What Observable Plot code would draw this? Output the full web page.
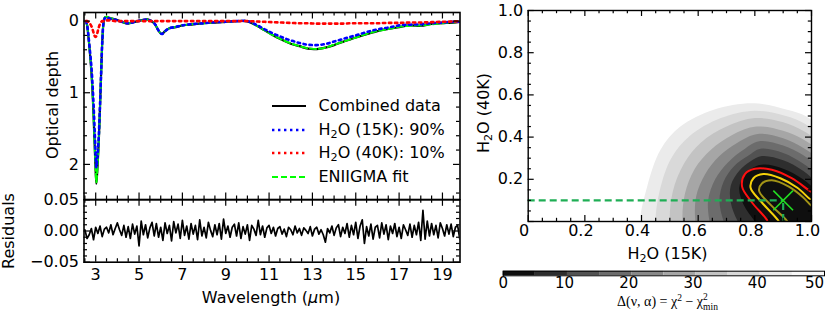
<!DOCTYPE html>
<html><head><meta charset="utf-8">
<script src="https://cdn.jsdelivr.net/npm/d3@7"></script>
<script src="https://cdn.jsdelivr.net/npm/@observablehq/plot@0.6"></script>
<style>
body{margin:0;background:#fff;}
#root{position:relative;width:831px;height:319px;overflow:hidden;font-family:"DejaVu Sans",sans-serif;color:#000;background:#fff;}
.pl{position:absolute;}
.lbl{position:absolute;font-size:16px;white-space:nowrap;transform:translate(-50%,-50%);line-height:1;}
.rot{transform:translate(-50%,-50%) rotate(-90deg);}
.row{position:absolute;height:20px;white-space:nowrap;font-size:16px;line-height:20px;}
.row svg{position:absolute;left:0;top:5px;}
.row span{position:absolute;left:47px;top:0;}
sub{font-size:0.7em;vertical-align:-0.25em;line-height:0;}
.sp{font-size:0.68em;position:relative;display:inline-block;line-height:0.75;}
</style></head><body><div id="root"></div>
<script>
// ---------- Spectrum (optical depth) ----------
const lam = [2.55,2.6,2.66,2.72,2.8,2.87,2.93,2.98,3.03,3.08,3.14,3.2,3.26,3.31,3.36,3.42,
  3.5,3.7,3.9,4.2,4.5,4.8,5.1,5.4,5.7,5.9,
  6.05,6.2,6.4,6.7,7.0,7.5,8.0,8.5,9.0,9.5,
  10.0,10.4,10.8,11.2,11.6,12.0,12.4,12.8,13.2,13.6,
  14.0,14.4,14.8,15.2,15.6,16.0,16.5,17.0,17.5,18.0,
  18.5,19.0,19.5,19.8];
const combinedData = [0.0,0.05,0.21,0.4,0.71,1.1,1.56,1.96,2.27,2.06,1.7,1.19,0.64,0.24,0.03,-0.05,
  -0.055,-0.04,-0.025,0.01,0.035,0.01,-0.01,-0.025,0.03,0.135,
  0.18,0.14,0.1,0.085,0.06,0.045,0.03,0.02,0.01,0.0,
  0.005,0.06,0.13,0.2,0.26,0.315,0.35,0.385,0.39,0.37,
  0.335,0.29,0.25,0.21,0.175,0.14,0.11,0.085,0.06,0.065,
  0.04,0.03,0.02,0.01];
const h2o15K = [0.0,0.05,0.19,0.37,0.63,0.97,1.36,1.73,2.04,1.89,1.61,1.16,0.64,0.25,0.03,-0.04,
  -0.05,-0.03,-0.02,0.01,0.03,0.01,-0.01,-0.02,0.03,0.13,
  0.18,0.14,0.1,0.08,0.06,0.04,0.03,0.015,0.01,0.0,
  0.0,0.05,0.115,0.175,0.225,0.27,0.305,0.33,0.335,0.32,
  0.285,0.25,0.215,0.18,0.145,0.115,0.09,0.06,0.05,0.045,
  0.03,0.02,0.01,0.01];
const h2o40K = [0.0,0.0,0.01,0.03,0.07,0.13,0.19,0.22,0.21,0.16,0.09,0.04,0.01,0.0,0.0,-0.01,
  -0.01,-0.01,0,0,0,0,0,0,0,0,
  0,0,0,0,0,0,0,0,0,0,
  0.0,0.005,0.01,0.015,0.02,0.025,0.03,0.03,0.035,0.035,
  0.035,0.035,0.03,0.03,0.03,0.03,0.025,0.025,0.02,0.02,
  0.015,0.01,0.005,0.0];
const eniigmaFit = [0.0,0.05,0.2,0.4,0.7,1.1,1.55,1.95,2.25,2.05,1.7,1.2,0.65,0.25,0.03,-0.05,
  -0.06,-0.04,-0.02,0.01,0.03,0.01,-0.01,-0.02,0.03,0.13,
  0.18,0.14,0.1,0.08,0.06,0.04,0.03,0.015,0.01,0.0,
  0.0,0.06,0.13,0.2,0.26,0.31,0.35,0.38,0.39,0.37,
  0.33,0.29,0.25,0.21,0.17,0.14,0.11,0.08,0.065,0.06,
  0.045,0.03,0.015,0.01];

// ---------- Residuals (2.5 ... 19.8 µm, step 0.1) ----------
const resStart = 2.5, resStep = 0.1;
const residuals = [
  0.002,-0.012,-0.006,0.004,-0.014,0.006,-0.004,0.008,-0.009,0.003,
  0.006,-0.003,0.010,-0.006,0.004,0.013,0.002,-0.007,0.009,-0.010,
  0.007,-0.012,0.011,-0.005,0.008,-0.024,0.016,-0.006,0.010,-0.011,
  0.005,0.014,-0.008,0.012,-0.010,0.006,-0.015,0.013,-0.004,0.009,
  -0.016,0.015,-0.003,0.011,-0.012,0.017,-0.007,0.008,-0.013,0.012,
  -0.005,0.009,-0.014,0.018,-0.008,0.006,-0.011,0.014,0.001,-0.009,
  0.010,-0.006,0.012,-0.013,0.019,-0.004,0.008,-0.010,0.006,0.011,
  -0.008,0.013,-0.012,0.007,-0.005,0.010,-0.015,0.009,0.003,-0.007,
  0.017,-0.006,0.008,-0.010,0.005,0.009,-0.004,0.006,-0.008,0.004,
  0.007,-0.005,0.003,-0.009,0.006,0.002,-0.006,0.008,-0.003,0.004,
  -0.007,0.005,0.001,-0.004,0.007,-0.008,0.003,0.006,-0.005,0.002,
  -0.006,-0.018,0.004,-0.003,0.008,-0.007,0.005,0.010,-0.009,0.006,
  -0.004,0.012,-0.010,0.009,-0.006,0.014,-0.012,0.008,0.018,-0.020,
  0.007,-0.008,0.011,-0.013,0.006,0.009,-0.011,0.013,-0.005,0.010,
  -0.014,0.008,-0.004,0.012,-0.009,0.006,-0.012,0.010,0.002,-0.007,
  0.011,-0.010,0.009,-0.006,0.014,-0.015,0.033,-0.013,0.016,-0.008,
  0.012,-0.006,0.009,-0.011,0.013,0.004,-0.008,0.010,-0.005,0.011,
  -0.009,0.006,0.009,-0.013];

// ---------- Chi-square map ----------
const chiLevels = [45,40,35,30,25,20,15,10,5];
const bandColors = ["#0f0f0f","#2e2e2e","#525252","#6c6c6c","#888888","#a6a6a6","#c3c3c3","#d9d9d9","#ebebeb","#f9f9f9"];
const colorbarTicks = [0,10,20,30,40,50];
const contour45 = [[0.396,0],[0.42,0.166],[0.467,0.34],[0.537,0.45],[0.655,0.53],[0.796,0.56],[0.914,0.53],[0.979,0.5],[1.03,0.44],[1.08,0.3],[1.08,-0.06],[0.41,-0.06]];
const contour40 = [[0.45,0],[0.465,0.15],[0.505,0.3],[0.57,0.405],[0.68,0.49],[0.80,0.525],[0.91,0.50],[0.975,0.465],[1.03,0.41],[1.08,0.28],[1.08,-0.06],[0.46,-0.06]];
const contour35 = [[0.50,0],[0.51,0.14],[0.55,0.275],[0.61,0.375],[0.70,0.45],[0.80,0.49],[0.90,0.47],[0.97,0.43],[1.03,0.37],[1.08,0.25],[1.08,-0.06],[0.51,-0.06]];
const contour30 = [[0.545,0],[0.553,0.13],[0.588,0.25],[0.645,0.34],[0.72,0.41],[0.805,0.45],[0.90,0.43],[0.97,0.39],[1.03,0.33],[1.08,0.22],[1.08,-0.06],[0.555,-0.06]];
const contour25 = [[0.59,0],[0.593,0.12],[0.625,0.225],[0.675,0.31],[0.74,0.375],[0.81,0.415],[0.90,0.395],[0.97,0.35],[1.03,0.29],[1.08,0.19],[1.08,-0.06],[0.60,-0.06]];
const contour20 = [[0.64,0],[0.635,0.1],[0.66,0.2],[0.705,0.28],[0.76,0.34],[0.815,0.38],[0.90,0.36],[0.97,0.315],[1.03,0.25],[1.08,0.16],[1.08,-0.06],[0.65,-0.06]];
const contour15 = [[0.69,0],[0.675,0.1],[0.69,0.19],[0.725,0.26],[0.775,0.31],[0.82,0.345],[0.90,0.325],[0.97,0.275],[1.03,0.21],[1.08,0.13],[1.08,-0.06],[0.71,-0.06]];
const contour10 = [[0.74,0],[0.715,0.09],[0.715,0.17],[0.745,0.24],[0.785,0.285],[0.825,0.31],[0.90,0.29],[0.97,0.24],[1.03,0.17],[1.08,0.1],[1.08,-0.06],[0.77,-0.06]];
const contour5  = [[0.80,0],[0.76,0.08],[0.745,0.16],[0.765,0.225],[0.80,0.26],[0.835,0.27],[0.90,0.25],[0.97,0.2],[1.03,0.13],[1.08,0.07],[1.08,-0.06],[0.83,-0.06]];
const contours = [contour45,contour40,contour35,contour30,contour25,contour20,contour15,contour10,contour5];
const sigmaRed    = [[0.85,-0.03],[0.846,0.0],[0.79,0.09],[0.755,0.165],[0.765,0.225],[0.80,0.25],[0.86,0.245],[0.93,0.205],[1.0,0.14],[1.04,0.11]];
const sigmaYellow = [[0.895,-0.03],[0.885,0.0],[0.825,0.09],[0.785,0.16],[0.795,0.205],[0.83,0.225],[0.89,0.205],[0.95,0.16],[1.0,0.1],[1.04,0.07]];
const sigmaOlive  = [[0.925,-0.03],[0.915,0.0],[0.855,0.08],[0.815,0.145],[0.825,0.18],[0.86,0.195],[0.92,0.165],[0.97,0.115],[1.0,0.075],[1.04,0.05]];
const bestFit = [{h15: 0.9, h40: 0.1}];

// ---------- helpers ----------
const root = document.getElementById("root");
const baseStyle = {background:"transparent", overflow:"visible", fontFamily:"DejaVu Sans", fontSize:"16px", color:"black"};
function place(el, left, top){ el.classList.add("pl"); el.style.left = left+"px"; el.style.top = top+"px"; root.appendChild(el); }
function frameTicks(xMajor, xMinor, yMajor, yMinor, iw, ih, maj=6.5, mn=3.5, sw=1.2){
  const m = [];
  for (const [xs, len] of [[xMajor, maj],[xMinor, mn]]) {
    m.push(Plot.tickX(xs, {x: d=>d, insetBottom: ih-len, strokeWidth: sw}));
    m.push(Plot.tickX(xs, {x: d=>d, insetTop: ih-len, strokeWidth: sw}));
  }
  for (const [ys, len] of [[yMajor, maj],[yMinor, mn]]) {
    m.push(Plot.tickY(ys, {y: d=>d, insetRight: iw-len, strokeWidth: sw}));
    m.push(Plot.tickY(ys, {y: d=>d, insetLeft: iw-len, strokeWidth: sw}));
  }
  return m;
}
function label(html, x, y, rot, extra){
  const d = document.createElement("div");
  d.className = "lbl" + (rot ? " rot" : "");
  d.style.left = x+"px"; d.style.top = y+"px";
  if (extra) Object.assign(d.style, extra);
  d.innerHTML = html; root.appendChild(d);
}

// ---------- Panel 1: optical depth ----------
const spec = lam.map((l,i)=>({lam:l, data:combinedData[i], h15:h2o15K[i], h40:h2o40K[i], fit:eniigmaFit[i]}));
const xMajorSpec = [3,5,7,9,11,13,15,17,19];
const xMinorSpec = d3.range(2.5, 19.81, 0.5).filter(v => !xMajorSpec.includes(v));
{
  const W=470,H=200, mL=83.5, mR=10.5, mT=12, mB=1;
  const p = Plot.plot({
    width:W, height:H, marginLeft:mL, marginRight:mR, marginTop:mT, marginBottom:mB,
    style: baseStyle,
    x:{domain:[2.46,19.81], axis:null},
    y:{domain:[-0.12,2.49], reverse:true, label:null},
    marks:[
      Plot.line(spec,{x:"lam",y:"data",stroke:"black",strokeWidth:2.2,curve:"catmull-rom",clip:true}),
      Plot.line(spec,{x:"lam",y:"fit",stroke:"#00ff00",strokeWidth:2,strokeDasharray:"6,3",curve:"catmull-rom",clip:true}),
      Plot.line(spec,{x:"lam",y:"h15",stroke:"#0000ff",strokeWidth:2.6,strokeDasharray:"2.4,3.6",curve:"catmull-rom",clip:true}),
      Plot.line(spec,{x:"lam",y:"h40",stroke:"#ff0000",strokeWidth:2.6,strokeDasharray:"2.4,3.6",curve:"catmull-rom",clip:true}),
      ...frameTicks(xMajorSpec, xMinorSpec, [0,1,2], [0.2,0.4,0.6,0.8,1.2,1.4,1.6,1.8,2.2,2.4], W-mL-mR, H-mT-mB),
      Plot.axisY([0,1,2],{tickSize:0,tickPadding:5,fontSize:16,label:null,tickFormat:d=>String(d)}),
      Plot.frame({stroke:"black",strokeWidth:1.6})
    ]
  });
  place(p, 0, 0);
}

// ---------- Panel 2: residuals ----------
const resData = residuals.map((r,i)=>({lam: resStart + i*resStep, r}));
{
  const W=470,H=129, mL=83.5, mR=10.5, mT=9.3, mB=57.3;
  const p = Plot.plot({
    width:W, height:H, marginLeft:mL, marginRight:mR, marginTop:mT, marginBottom:mB,
    style: baseStyle,
    x:{domain:[2.46,19.81], label:null},
    y:{domain:[-0.05,0.05], label:null},
    marks:[
      Plot.line(resData,{x:"lam",y:"r",stroke:"black",strokeWidth:1.7,clip:true}),
      ...frameTicks(xMajorSpec, xMinorSpec, [-0.05,0,0.05], [-0.04,-0.03,-0.02,-0.01,0.01,0.02,0.03,0.04], W-mL-mR, H-mT-mB),
      Plot.axisY([-0.05,0,0.05],{tickSize:0,tickPadding:5,fontSize:16,label:null,tickFormat:d=>(d<0?"\u2212":"")+Math.abs(d).toFixed(2)}),
      Plot.axisX(xMajorSpec,{tickSize:0,tickPadding:6,fontSize:16,label:null,tickFormat:d=>String(d)}),
      Plot.frame({stroke:"black",strokeWidth:1.6})
    ]
  });
  place(p, 0, 190);
}

// ---------- Panel 3: chi-square map ----------
{
  const W=351,H=250, mL=47.7, mR=20, mT=10, mB=29;
  const major = [0,0.2,0.4,0.6,0.8,1.0];
  const minor = d3.range(0.05,1,0.05).filter(v => Math.abs(v*5-Math.round(v*5))>1e-6);
  const fills = contours.map((c,i)=>Plot.line(c,{x:d=>d[0],y:d=>d[1],fill:bandColors[chiLevels[i]/5-1],stroke:"none",curve:"catmull-rom-closed",clip:true}));
  const p = Plot.plot({
    width:W, height:H, marginLeft:mL, marginRight:mR, marginTop:mT, marginBottom:mB,
    style: baseStyle,
    x:{domain:[0,1], label:null},
    y:{domain:[0,1], label:null},
    marks:[
      ...fills,
      Plot.line(sigmaRed,{x:d=>d[0],y:d=>d[1],stroke:"#ff1010",strokeWidth:2,curve:"catmull-rom",clip:true}),
      Plot.line(sigmaYellow,{x:d=>d[0],y:d=>d[1],stroke:"#f5d10a",strokeWidth:2,curve:"catmull-rom",clip:true}),
      Plot.line(sigmaOlive,{x:d=>d[0],y:d=>d[1],stroke:"#a39417",strokeWidth:2,curve:"catmull-rom",clip:true}),
      Plot.ruleY(bestFit,{y:"h40",x1:0,x2:"h15",stroke:"#1fae55",strokeWidth:2.2,strokeDasharray:"7,4"}),
      Plot.ruleX(bestFit,{x:"h15",y1:0,y2:"h40",stroke:"#1fae55",strokeWidth:2.2,strokeDasharray:"7,4"}),
      Plot.dot(bestFit,{x:"h15",y:"h40",symbol:"times",r:9,stroke:"#22dd22",strokeWidth:1.6}),
      ...frameTicks(major, minor, major, minor, W-mL-mR, H-mT-mB, 6, 3.2),
      Plot.axisY([0.2,0.4,0.6,0.8,1.0],{tickSize:0,tickPadding:5,fontSize:16,label:null,tickFormat:d=>d.toFixed(1)}),
      Plot.axisX(major,{tickSize:0,tickPadding:3,fontSize:16,label:null,dx:-4,tickFormat:d=>d===0?"0":d.toFixed(1)}),
      Plot.frame({stroke:"black",strokeWidth:1.4})
    ]
  });
  place(p, 480, 0);
}

// ---------- Colorbar ----------
{
  const W=351,H=40, mL=22.7, mR=7, mT=8.7, mB=26.7;
  const segs = d3.range(0,50,5);
  const p = Plot.plot({
    width:W, height:H, marginLeft:mL, marginRight:mR, marginTop:mT, marginBottom:mB,
    style: baseStyle,
    x:{domain:[0,50], label:null},
    color:{type:"identity"},
    marks:[
      Plot.barX(segs,{x1:d=>d,x2:d=>d+5,fill:(d,i)=>bandColors[i]}),
      Plot.axisX(colorbarTicks.slice(0,1),{tickSize:0,tickPadding:1.5,fontSize:15,label:null}),
      Plot.axisX(colorbarTicks.slice(1,-1),{tickSize:0,tickPadding:1.5,fontSize:15,label:null,dx:-3}),
      Plot.axisX(colorbarTicks.slice(-1),{tickSize:0,tickPadding:1.5,fontSize:15,label:null,dx:-10}),
      Plot.frame({stroke:"black",strokeWidth:1})
    ]
  });
  place(p, 480, 262);
}

// ---------- Titles & legend ----------
label("Optical depth", 53, 105, true);
label("Residuals", 9, 231, true);
label("Wavelength (<i>\u03bc</i>m)", 271, 298);
label("H<sub>2</sub>O (40K)", 484, 113, true);
label("H<sub>2</sub>O (15K)", 667.5, 254);
label("\u0394(\u03bd, \u03b1) = \u03c7<span class='sp' style='top:-0.55em'>2</span> \u2212 \u03c7<span class='sp' style='top:-0.6em'>2</span><span class='sp' style='top:0.4em;margin-left:-0.5em'>min</span>", 667.5, 302, false, {fontFamily:"'Liberation Serif',serif", fontSize:"14px"});

const legendItems = [
  {text:"Combined data", stroke:"black", dash:null, w:2.2},
  {text:"H<sub>2</sub>O (15K): 90%", stroke:"#0000ff", dash:"2.4,3.6", w:2.6},
  {text:"H<sub>2</sub>O (40K): 10%", stroke:"#ff0000", dash:"2.4,3.6", w:2.6},
  {text:"ENIIGMA fit", stroke:"#00ff00", dash:"6,3", w:2}
];
const legendRowY = [106,129.5,153,176.5];
legendItems.forEach((it,i)=>{
  const d = document.createElement("div");
  d.className = "row";
  d.style.left = "271.5px"; d.style.top = (legendRowY[i]-10)+"px";
  d.innerHTML = `<svg width="34" height="10"><line x1="0" y1="5" x2="34" y2="5" stroke="${it.stroke}" stroke-width="${it.w}" ${it.dash?`stroke-dasharray="${it.dash}"`:""}/></svg><span>${it.text}</span>`;
  root.appendChild(d);
});
</script></body></html>
